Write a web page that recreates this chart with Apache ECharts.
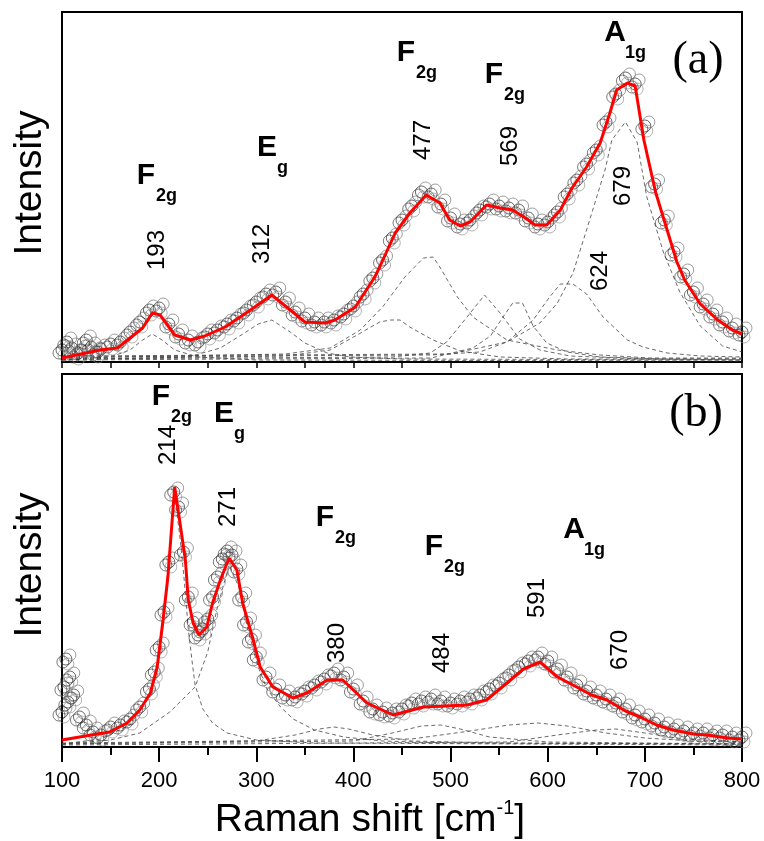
<!DOCTYPE html>
<html>
<head>
<meta charset="utf-8">
<script src="https://cdn.jsdelivr.net/npm/echarts@6/dist/echarts.min.js"></script>
<style>
  html, body { margin: 0; padding: 0; background: #fff; }
  #chart { width: 764px; height: 841px; }
</style>
</head>
<body>
<div id="chart"></div>
<script>
// x ticks shared by both panels
const xTicks = [100, 200, 300, 400, 500, 600, 700, 800];

// panel (a): measured spectrum, fit, and fitted components  [shift, intensity]
const expA = [
  [100, 12], [105, 20], [110, 14], [115, 8], [120, 12], [125, 22], [130, 15], [135, 10], [140, 13],
  [150, 18], [160, 20], [170, 30], [180, 40], [190, 52], [200, 54], [210, 38], [220, 28], [230, 22],
  [240, 20], [250, 28], [260, 32], [270, 38], [280, 44], [290, 52], [300, 60], [310, 68], [320, 70],
  [330, 60], [340, 50], [350, 44], [360, 40], [370, 40], [380, 42], [390, 48], [400, 56], [410, 68],
  [420, 84], [430, 102], [440, 124], [450, 142], [460, 156], [470, 170], [480, 168], [490, 158],
  [500, 144], [510, 138], [520, 142], [530, 152], [540, 158], [550, 156], [560, 154], [570, 152],
  [580, 144], [590, 138], [600, 140], [610, 150], [620, 168], [630, 182], [640, 198], [650, 212],
  [660, 240], [670, 268], [680, 284], [690, 278], [700, 236], [710, 178], [720, 142], [730, 110],
  [740, 88], [750, 70], [760, 58], [770, 48], [780, 40], [790, 34], [800, 30],
];
const fitA = [
  [100, 4], [139, 12], [157, 14], [183, 34], [193, 49], [201, 47], [216, 27], [232, 22], [247, 26],
  [268, 35], [294, 52], [316, 67], [335, 52], [350, 40], [371, 39], [381, 42], [402, 55], [422, 85],
  [427, 95], [443, 129], [458, 149], [475, 167], [489, 159], [499, 142], [510, 136], [520, 140],
  [537, 157], [551, 154], [564, 152], [577, 144], [587, 137], [599, 137], [613, 152], [625, 174],
  [640, 195], [654, 219], [664, 249], [671, 272], [682, 279], [690, 276], [699, 222], [711, 170],
  [722, 135], [733, 100], [741, 82], [757, 58], [775, 42], [790, 32], [800, 28],
];
const compA193 = [[100, 2], [150, 5], [170, 12], [183, 22], [193, 28], [203, 22], [216, 12], [240, 5], [300, 2], [800, 1]];
const compA312 = [[100, 2], [230, 5], [263, 14], [283, 26], [302, 38], [316, 42], [335, 30], [350, 19], [373, 9], [396, 5], [450, 3], [800, 2]];
const compA440 = [[100, 3], [330, 6], [376, 12], [402, 26], [427, 40], [438, 42], [448, 42], [458, 35], [482, 22], [510, 11], [551, 5], [620, 3], [800, 3]];
const compA477 = [[100, 4], [330, 8], [376, 14], [407, 32], [430, 55], [453, 85], [472, 104], [482, 105], [489, 95], [507, 65], [523, 45], [558, 22], [610, 12], [654, 7], [705, 4], [800, 4]];
const compA535 = [[100, 3], [440, 5], [479, 9], [496, 20], [517, 45], [535, 67], [551, 49], [571, 23], [592, 12], [623, 6], [700, 3], [800, 3]];
const compA569 = [[100, 2], [480, 4], [523, 14], [541, 26], [554, 45], [564, 59], [574, 59], [585, 36], [599, 19], [620, 10], [654, 5], [720, 3], [800, 2]];
const compA624 = [[100, 5], [480, 7], [530, 10], [558, 20], [585, 42], [602, 65], [613, 78], [626, 78], [640, 68], [657, 45], [682, 22], [698, 15], [723, 9], [757, 6], [800, 5]];
const compA679 = [[100, 6], [500, 8], [558, 20], [592, 39], [610, 59], [626, 89], [640, 132], [659, 192], [666, 222], [680, 240], [692, 220], [702, 165], [719, 110], [736, 70], [757, 36], [780, 16], [800, 10]];

// panel (b)
const expB = [
  [100, 35], [102, 60], [104, 88], [106, 45], [108, 70], [112, 52], [118, 30], [125, 22], [132, 15],
  [140, 12], [150, 20], [160, 22], [170, 28], [180, 40], [190, 58], [195, 75], [200, 100], [205, 135],
  [210, 185], [215, 255], [220, 240], [225, 195], [230, 150], [235, 125], [240, 112], [245, 118],
  [250, 128], [255, 150], [260, 170], [265, 188], [270, 196], [275, 192], [280, 178], [285, 150],
  [290, 125], [295, 108], [300, 90], [310, 70], [320, 58], [330, 52], [340, 50], [350, 56], [360, 62],
  [370, 68], [380, 74], [390, 70], [400, 58], [410, 46], [420, 38], [430, 35], [440, 34], [450, 38],
  [460, 44], [470, 46], [480, 48], [490, 46], [500, 44], [510, 46], [520, 48], [530, 52], [540, 58],
  [550, 64], [560, 72], [570, 80], [580, 86], [590, 90], [600, 86], [610, 78], [620, 70], [630, 62],
  [640, 56], [650, 52], [660, 48], [670, 44], [680, 38], [690, 32], [700, 28], [710, 24], [720, 20],
  [730, 18], [740, 16], [750, 14], [760, 14], [770, 12], [780, 12], [790, 10], [800, 10],
];
const fitB = [
  [100, 7], [130, 12], [149, 15], [167, 24], [180, 37], [191, 54], [198, 80], [204, 127], [209, 170],
  [216, 260], [221, 227], [227, 187], [230, 147], [235, 124], [241, 112], [249, 120], [255, 144],
  [263, 167], [272, 189], [280, 177], [286, 144], [296, 110], [304, 80], [317, 60], [338, 49],
  [352, 54], [373, 67], [389, 67], [414, 44], [441, 32], [472, 40], [517, 42], [537, 47], [558, 64],
  [575, 78], [592, 85], [610, 70], [626, 62], [645, 52], [661, 47], [680, 36], [695, 30], [712, 22],
  [729, 17], [750, 13], [764, 12], [785, 9], [800, 8],
];
const compB214 = [[100, 3], [140, 8], [170, 22], [190, 50], [200, 88], [205, 130], [210, 190], [216, 252], [222, 205], [226, 165], [230, 118], [234, 85], [237, 62], [245, 38], [255, 24], [270, 14], [300, 7], [360, 4], [800, 2]];
const compB271 = [[100, 3], [150, 7], [180, 14], [211, 35], [237, 60], [250, 95], [260, 140], [272, 182], [282, 160], [292, 115], [302, 80], [311, 58], [325, 40], [338, 28], [360, 17], [390, 10], [430, 6], [500, 4], [800, 3]];
const compB380 = [[100, 3], [300, 6], [340, 12], [365, 18], [380, 20], [395, 18], [420, 12], [460, 6], [550, 4], [800, 3]];
const compB484 = [[100, 3], [400, 6], [440, 14], [470, 21], [490, 22], [510, 18], [540, 10], [600, 5], [800, 3]];
const compB591 = [[100, 4], [460, 8], [520, 16], [560, 22], [590, 24], [620, 21], [660, 14], [700, 9], [750, 6], [800, 5]];
const compB670 = [[100, 2], [560, 5], [610, 12], [650, 17], [670, 18], [700, 14], [740, 8], [800, 5]];

const FONT = 'Liberation Sans, Arial, sans-serif';

const chart = echarts.init(document.getElementById('chart'));

const components = (list, axis) =>
  list.map((data) => ({
    type: 'line',
    xAxisIndex: axis,
    yAxisIndex: axis,
    data,
    showSymbol: false,
    silent: true,
    z: 2,
    lineStyle: { color: '#444', width: 0.8, type: [4, 3] },
  }));

// open circles, drawn a few times with small offsets so the band looks as dense as the scan
const circleLayers = [
  { offset: [0, 0], color: '#111' },
  { offset: [4, -4], color: '#666' },
  { offset: [-3, 3], color: '#333' },
  { offset: [2, 5], color: '#888' },
];
const circles = (data, axis) =>
  circleLayers.map((layer) => ({
    type: 'scatter',
    xAxisIndex: axis,
    yAxisIndex: axis,
    data,
    symbol: 'circle',
    symbolSize: 12,
    symbolOffset: layer.offset,
    silent: true,
    z: 3,
    itemStyle: { color: 'rgba(0,0,0,0)', borderColor: layer.color, borderWidth: 0.8 },
  }));

const fitLine = (data, axis) => ({
  type: 'line',
  xAxisIndex: axis,
  yAxisIndex: axis,
  data,
  showSymbol: false,
  z: 5,
  lineStyle: { color: '#ff0000', width: 3 },
});

const xAxisBase = {
  type: 'value',
  min: xTicks[0],
  max: xTicks[xTicks.length - 1],
  interval: 100,
  splitLine: { show: false },
  axisLine: { lineStyle: { color: '#000', width: 2 } },
};

// rotated peak positions and bold mode labels
const peakLabels = [
  ['193', 157, 250], ['312', 262, 244], ['477', 423, 140], ['569', 510, 146],
  ['679', 623, 186], ['624', 600, 271],
  ['214', 168, 445], ['271', 228, 507], ['380', 337, 643], ['484', 442, 653],
  ['591', 537, 598], ['670', 620, 650],
];
const modeLabels = [
  ['F', '2g', 146, 176], ['E', 'g', 267, 148], ['F', '2g', 406, 53], ['F', '2g', 494, 75], ['A', '1g', 615, 33],
  ['F', '2g', 161, 397], ['E', 'g', 224, 414], ['F', '2g', 325, 518], ['F', '2g', 434, 547], ['A', '1g', 574, 530],
];

const graphics = [];
peakLabels.forEach(([text, x, y]) => {
  graphics.push({
    type: 'text', x, y, rotation: Math.PI / 2,
    style: { text, fontFamily: FONT, fontSize: 24, fill: '#000', align: 'center', verticalAlign: 'middle' },
  });
});
modeLabels.forEach(([main, sub, x, y]) => {
  graphics.push({
    type: 'text', x, y,
    style: { text: main, fontFamily: FONT, fontSize: 30, fontWeight: 'bold', fill: '#000', align: 'center', verticalAlign: 'middle' },
  });
  graphics.push({
    type: 'text', x: x + 10, y: y + 11,
    style: { text: sub, fontFamily: FONT, fontSize: 18, fontWeight: 'bold', fill: '#000', align: 'left', verticalAlign: 'top' },
  });
});
graphics.push(
  { type: 'text', x: 30, y: 183, rotation: Math.PI / 2,
    style: { text: 'Intensity', fontFamily: FONT, fontSize: 39, fill: '#000', align: 'center', verticalAlign: 'middle' } },
  { type: 'text', x: 30, y: 565, rotation: Math.PI / 2,
    style: { text: 'Intensity', fontFamily: FONT, fontSize: 39, fill: '#000', align: 'center', verticalAlign: 'middle' } },
  { type: 'text', x: 698, y: 61,
    style: { text: '(a)', fontFamily: 'Liberation Serif, Times New Roman, serif', fontSize: 46, fill: '#000', align: 'center', verticalAlign: 'middle' } },
  { type: 'text', x: 696, y: 414,
    style: { text: '(b)', fontFamily: 'Liberation Serif, Times New Roman, serif', fontSize: 46, fill: '#000', align: 'center', verticalAlign: 'middle' } },
  { type: 'text', x: 370, y: 820,
    style: {
      text: '{a|Raman shift [cm}{b|-1}{a|]}',
      align: 'center', verticalAlign: 'middle',
      rich: {
        a: { fontFamily: FONT, fontSize: 39, lineHeight: 44, fill: '#000' },
        b: { fontFamily: FONT, fontSize: 20, verticalAlign: 'top', fill: '#000' },
      },
    } },
);

chart.setOption({
  animation: false,
  backgroundColor: '#fff',
  grid: [
    { left: 62, top: 12, width: 680, height: 350, show: true, borderColor: '#000', borderWidth: 2 },
    { left: 62, top: 374, width: 680, height: 373, show: true, borderColor: '#000', borderWidth: 2 },
  ],
  xAxis: [
    {
      ...xAxisBase,
      gridIndex: 0,
      axisLabel: { show: false },
      axisTick: { length: 6, lineStyle: { color: '#000', width: 1.5 } },
      minorTick: { show: true, splitNumber: 2, length: 6, lineStyle: { color: '#000', width: 1.5 } },
    },
    {
      ...xAxisBase,
      gridIndex: 1,
      axisLabel: { fontFamily: FONT, fontSize: 22, color: '#000', margin: 23 },
      axisTick: { length: 15, lineStyle: { color: '#000', width: 2 } },
      minorTick: { show: true, splitNumber: 2, length: 8, lineStyle: { color: '#000', width: 2 } },
    },
  ],
  yAxis: [
    { type: 'value', gridIndex: 0, min: 0, max: 350, show: false },
    { type: 'value', gridIndex: 1, min: 0, max: 373, show: false },
  ],
  series: [
    ...components([compA193, compA312, compA440, compA477, compA535, compA569, compA624, compA679], 0),
    ...circles(expA, 0),
    fitLine(fitA, 0),
    ...components([compB214, compB271, compB380, compB484, compB591, compB670], 1),
    ...circles(expB, 1),
    fitLine(fitB, 1),
  ],
  graphic: graphics,
});

window.addEventListener('resize', chart.resize);
</script>
</body>
</html>
